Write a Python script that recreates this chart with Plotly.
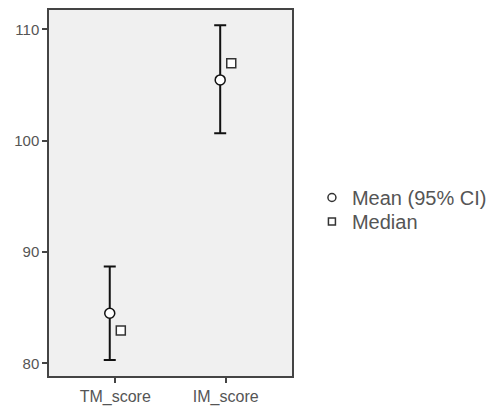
import plotly.graph_objects as go

categories = ["TM_score", "IM_score"]
means = [84.5, 105.45]
ci_upper = [88.7, 110.35]
ci_lower = [80.3, 100.65]
medians = [82.95, 106.95]
y_ticks = [80, 90, 100, 110]

xpos = list(range(len(categories)))
off = 0.05

fig = go.Figure()
fig.add_trace(go.Scatter(
    x=[p - off for p in xpos], y=means, mode="markers",
    marker=dict(symbol="circle", size=10, color="white", line=dict(color="#111", width=1.5)),
    error_y=dict(type="data", symmetric=False,
                 array=[u - m for u, m in zip(ci_upper, means)],
                 arrayminus=[m - l for m, l in zip(means, ci_lower)],
                 color="#111", thickness=2, width=6),
    showlegend=False))
fig.add_trace(go.Scatter(
    x=[p + off for p in xpos], y=medians, mode="markers",
    marker=dict(symbol="square", size=9, color="white", line=dict(color="#333", width=1.5)),
    showlegend=False))
# legend entries
fig.add_trace(go.Scatter(x=[None], y=[None], mode="markers", name="Mean (95% CI)",
    legend="legend",
    marker=dict(symbol="circle", size=8, color="white", line=dict(color="#333", width=1.5))))
fig.add_trace(go.Scatter(x=[None], y=[None], mode="markers", name="Median",
    legend="legend2",
    marker=dict(symbol="square", size=7, color="white", line=dict(color="#333", width=1.5))))

legend_common = dict(x=1.082, xanchor="left", yanchor="middle",
                     font=dict(size=20, color="#555"), bgcolor="rgba(0,0,0,0)")
fig.update_layout(
    width=486, height=408,
    margin=dict(l=49, r=194, t=10, b=32, autoexpand=False),
    paper_bgcolor="white", plot_bgcolor="#f0f0f0",
    font=dict(family="Liberation Sans, Arial, sans-serif", color="#555"),
    legend=dict(y=0.4877, **legend_common),
    legend2=dict(y=0.422, **legend_common),
)
fig.update_xaxes(range=[-0.6, 1.6], tickvals=xpos, ticktext=categories, automargin=False,
                 ticks="outside", ticklen=5, tickcolor="#444", tickwidth=1.5,
                 showgrid=False, zeroline=False, showline=True, linecolor="#444",
                 linewidth=1.5, mirror=True, tickfont=dict(size=16, color="#555"))
fig.update_yaxes(range=[78.86, 111.73], tickvals=y_ticks, automargin=False,
                 ticks="outside", ticklen=5, tickcolor="#444", tickwidth=1.5,
                 showgrid=False, zeroline=False, showline=True, linecolor="#444",
                 linewidth=1.5, mirror=True, tickfont=dict(size=15, color="#555"))

fig.write_html("out.html", config={"displayModeBar": False},
               post_script="document.body.style.margin='0';document.body.style.overflow='hidden';")
